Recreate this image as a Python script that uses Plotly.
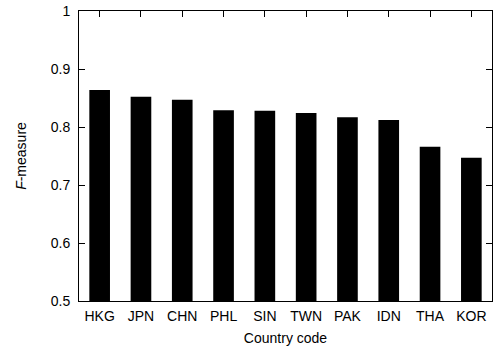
import plotly.graph_objects as go

countries = ["HKG", "JPN", "CHN", "PHL", "SIN", "TWN", "PAK", "IDN", "THA", "KOR"]
f_measure = [0.864, 0.852, 0.847, 0.829, 0.828, 0.824, 0.817, 0.812, 0.766, 0.747]
y_ticks = [0.5, 0.6, 0.7, 0.8, 0.9, 1.0]
y_ticklabels = ["0.5", "0.6", "0.7", "0.8", "0.9", "1"]

fig = go.Figure(go.Bar(
    x=countries, y=f_measure, width=0.5,
    marker=dict(color="black", line=dict(width=0)),
))

font = dict(family="Liberation Sans, Arial, sans-serif", size=14, color="black")

fig.update_layout(
    width=494, height=347,
    margin=dict(l=79, r=2, t=11, b=46),
    plot_bgcolor="white", paper_bgcolor="white",
    font=font, showlegend=False,
)
fig.update_xaxes(
    type="category", range=[-0.5, 9.5],
    showline=True, linecolor="black", linewidth=1, mirror="ticks",
    ticks="inside", ticklen=6, tickcolor="black",
    showgrid=False, tickfont=font, ticklabelstandoff=2,
    title=dict(text="Country code", font=dict(size=14), standoff=10),
)
fig.update_yaxes(
    range=[0.5, 1.0], tickvals=y_ticks, ticktext=y_ticklabels,
    showline=True, linecolor="black", linewidth=1, mirror="ticks",
    ticks="inside", ticklen=6, tickcolor="black",
    showgrid=False, zeroline=False, tickfont=font, ticklabelstandoff=5,
    title=dict(text="<i>F</i>-measure", font=dict(size=14), standoff=20),
)
fig.write_html("out.html", config={"displayModeBar": False},
               post_script="document.body.style.margin='0';")
